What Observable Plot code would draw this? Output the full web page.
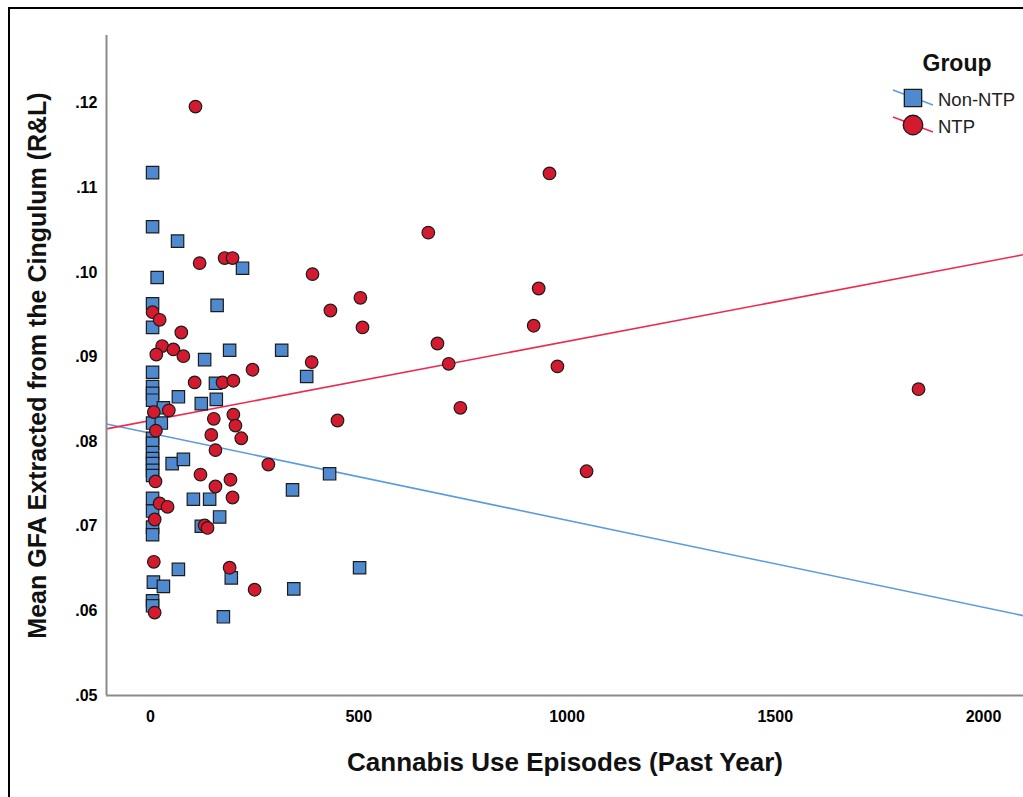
<!DOCTYPE html>
<html>
<head>
<meta charset="utf-8">
<script src="https://cdn.jsdelivr.net/npm/d3@7"></script>
<script src="https://cdn.jsdelivr.net/npm/@observablehq/plot@0.6"></script>
<style>
  html, body { margin: 0; padding: 0; background: #fff; }
  #wrap { position: relative; width: 1023px; height: 797px; overflow: hidden; font-family: "Liberation Sans", Arial, sans-serif; }
  #border { position: absolute; left: 8px; top: 7px; right: -10px; bottom: -10px; border-left: 2px solid #000; border-top: 2px solid #000; pointer-events: none; }
  #legend { position: absolute; left: 0; top: 0; }
</style>
</head>
<body>
<div id="wrap"><div id="border"></div></div>
<script>
// ---- Data ----
const nonNtpX = [5, 5, 65, 221, 16, 5, 160, 5, 190, 315, 130, 5, 375, 156, 5, 5, 5, 67, 122, 158, 31, 5, 26, 5,
  5, 5, 5, 5, 5, 5, 52, 79, 341, 430, 5, 103, 142, 5, 166, 5, 5, 122, 67, 194, 7, 31, 344, 502, 5, 5, 175];
const nonNtpY = [0.1118, 0.1054, 0.1037, 0.1005, 0.0994, 0.0963, 0.0961, 0.0935, 0.0908, 0.0908, 0.0897, 0.0882,
  0.0877, 0.0869, 0.0865, 0.0857, 0.0849, 0.0853, 0.0845, 0.0850, 0.0840, 0.0822, 0.0822, 0.0804,
  0.0798, 0.0787, 0.0780, 0.0774, 0.0766, 0.0760, 0.0774, 0.0779, 0.0743, 0.0762, 0.0733, 0.0732, 0.0732,
  0.0718, 0.0711, 0.0699, 0.0690, 0.0700, 0.0649, 0.0639, 0.0634, 0.0629, 0.0626, 0.0651, 0.0612, 0.0606, 0.0593];

const ntpX = [108, 118, 178, 197, 5, 22, 74, 28, 55, 14, 79, 245, 106, 173, 199, 8, 44, 152, 199, 204, 13, 146, 218,
  156, 283, 120, 192, 12, 156, 197, 22, 41, 10, 130, 137, 8, 190, 250, 10,
  389, 504, 432, 509, 387, 449, 667, 958, 932, 920, 689, 716, 977, 744, 1047, 1844];
const ntpY = [0.1196, 0.1011, 0.1017, 0.1017, 0.0953, 0.0944, 0.0929, 0.0913, 0.0909, 0.0903, 0.0901, 0.0885,
  0.0870, 0.0870, 0.0872, 0.0835, 0.0837, 0.0827, 0.0832, 0.0819, 0.0813, 0.0808, 0.0804,
  0.0790, 0.0773, 0.0761, 0.0755, 0.0753, 0.0747, 0.0734, 0.0727, 0.0723, 0.0708, 0.0701, 0.0698,
  0.0658, 0.0651, 0.0625, 0.0598,
  0.0998, 0.0970, 0.0955, 0.0935, 0.0894, 0.0825, 0.1047, 0.1117, 0.0981, 0.0937, 0.0916, 0.0892,
  0.0889, 0.0840, 0.0765, 0.0862];

// Fit lines (total fit per group)
const fitGroups = ["Non-NTP", "NTP"];
const fitIntercept = [0.0810, 0.0825];
const fitSlope = [-0.00001029, 0.00000935];

const groups = ["Non-NTP", "NTP"];
const xTicks = [0, 500, 1000, 1500, 2000];
const yTicks = [0.05, 0.06, 0.07, 0.08, 0.09, 0.10, 0.11, 0.12];
const xDomain = [-105.6, 2096];
const yDomain = [0.05, 0.128];

// ---- Build tables ----
const nonNtp = nonNtpX.map((x, i) => ({x, y: nonNtpY[i], group: "Non-NTP"}));
const ntp = ntpX.map((x, i) => ({x, y: ntpY[i], group: "NTP"}));
const fitLines = fitGroups.flatMap((g, i) =>
  xDomain.map(x => ({x, y: fitIntercept[i] + fitSlope[i] * x, group: g})));

const blueFill = "#4f8ad0", redFill = "#d41a2e";
const blueLine = "#5b9be0", redLine = "#ec2a50";

const chart = Plot.plot({
  width: 1023,
  height: 797,
  marginLeft: 106,
  marginRight: 0,
  marginTop: 35,
  marginBottom: 102,
  style: {fontFamily: "'Liberation Sans', Arial, sans-serif", background: "transparent", color: "#000"},
  x: {domain: xDomain},
  y: {domain: yDomain},
  marks: [
    Plot.line(fitLines, {x: "x", y: "y", z: "group", stroke: d => d.group === "NTP" ? redLine : blueLine, strokeWidth: 1.6, clip: true}),
    Plot.ruleX([xDomain[0]], {stroke: "#8a8a8a", strokeWidth: 2}),
    Plot.ruleY([yDomain[0]], {stroke: "#8a8a8a", strokeWidth: 2}),
    Plot.axisX({ticks: xTicks, tickSize: 0, tickPadding: 15, fontSize: 16, fontWeight: "bold", tickFormat: d => String(d), label: null}),
    Plot.axisY({ticks: yTicks, tickSize: 0, tickPadding: 9, fontSize: 16, fontWeight: "bold", tickFormat: d => d3.format(".2f")(d).replace(/^0/, ""), label: null}),
    Plot.dot(nonNtp, {x: "x", y: "y", symbol: "square", r: 7, fill: blueFill, stroke: "#1c1c1c", strokeWidth: 1.2}),
    Plot.dot(ntp, {x: "x", y: "y", symbol: "circle", r: 6.3, fill: redFill, stroke: "#1c1c1c", strokeWidth: 1.2}),
    Plot.text(["Cannabis Use Episodes (Past Year)"], {frameAnchor: "bottom", dy: 67, lineAnchor: "middle", textAnchor: "middle", fontSize: 26, fontWeight: "bold", text: d => d, fill: "#111"}),
    Plot.text(["Mean GFA Extracted from the Cingulum (R&L)"], {frameAnchor: "left", dx: -69, rotate: -90, lineAnchor: "middle", textAnchor: "middle", fontSize: 25, fontWeight: "bold", text: d => d, fill: "#111"})
  ]
});
const wrap = document.getElementById("wrap");
wrap.insertBefore(chart, wrap.firstChild);

// ---- Legend (top right) ----
const leg = d3.select(wrap).append("svg").attr("id", "legend").attr("width", 1023).attr("height", 797)
  .style("font-family", "'Liberation Sans', Arial, sans-serif");
leg.append("text").attr("x", 957).attr("y", 63).attr("text-anchor", "middle").attr("dominant-baseline", "central")
  .attr("font-size", 23).attr("font-weight", "bold").attr("fill", "#111").text("Group");
const legColors = [{line: blueLine, fill: blueFill, sym: d3.symbolSquare}, {line: redLine, fill: redFill, sym: d3.symbolCircle}];
groups.forEach((g, i) => {
  const cy = 98 + i * 27;
  const row = leg.append("g");
  row.append("line").attr("x1", 893).attr("y1", cy - 8).attr("x2", 933).attr("y2", cy + 7)
    .attr("stroke", legColors[i].line).attr("stroke-width", 1.5);
  row.append("path").attr("transform", `translate(913,${cy})`)
    .attr("d", d3.symbol(legColors[i].sym, 300)())
    .attr("fill", legColors[i].fill).attr("stroke", "#1c1c1c").attr("stroke-width", 1.3);
  row.append("text").attr("x", 938).attr("y", cy + 1).attr("dominant-baseline", "central")
    .attr("font-size", 18.5).attr("fill", "#222").text(g);
});
</script>
</body>
</html>
